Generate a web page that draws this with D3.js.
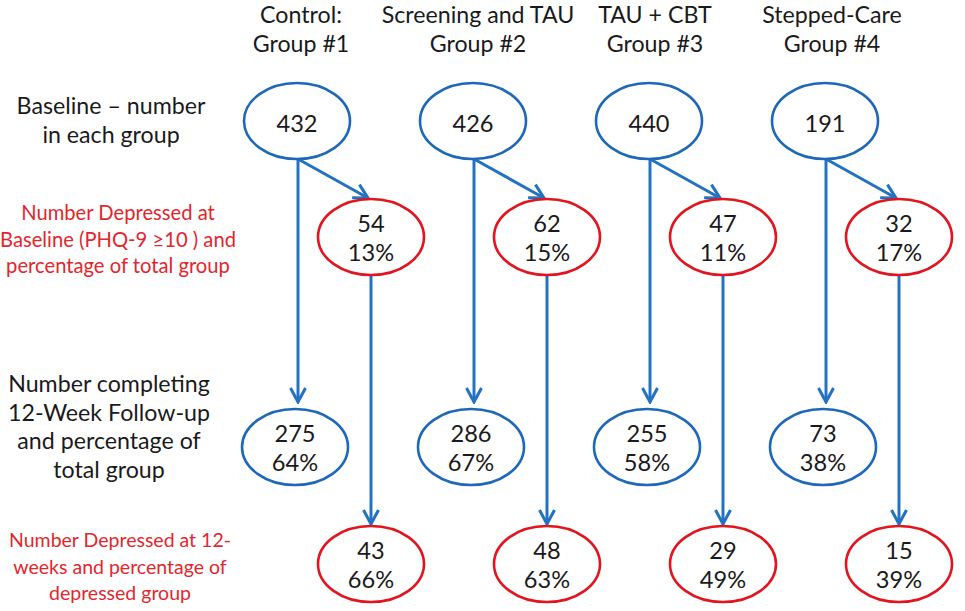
<!DOCTYPE html>
<html>
<head>
<meta charset="utf-8">
<script src="https://cdn.jsdelivr.net/npm/d3@7"></script>
<style>
  body { margin: 0; background: #fff; }
  svg { display: block; font-family: Lato, "Open Sans", sans-serif; }
</style>
</head>
<body>
<div id="vis"></div>
<script>
// Data
const GROUP_TITLES = [["Control:", "Group #1"], ["Screening and TAU", "Group #2"],
                      ["TAU + CBT", "Group #3"], ["Stepped-Care", "Group #4"]];
const BASELINE_N = [432, 426, 440, 191];
const DEPRESSED_BASE_N = [54, 62, 47, 32];
const DEPRESSED_BASE_PCT = [13, 15, 11, 17];
const FOLLOWUP_N = [275, 286, 255, 73];
const FOLLOWUP_PCT = [64, 67, 58, 38];
const DEPRESSED_12W_N = [43, 48, 29, 15];
const DEPRESSED_12W_PCT = [66, 63, 49, 39];

const ROW_LABELS = [
  {lines: ["Baseline \u2013 number", "in each group"], red: false},
  {lines: ["Number Depressed at", "Baseline (PHQ-9 \u226510 ) and", "percentage of total group"], red: true},
  {lines: ["Number completing", "12-Week Follow-up", "and percentage of", "total group"], red: false},
  {lines: ["Number Depressed at 12-", "weeks and percentage of", "depressed group"], red: true}
];

// Frame
const FRAME_WIDTH = 965;
const FRAME_HEIGHT = 611;
const BLUE = "#1e68b8";
const ARROW_BLUE = "#2272c4";
const RED = "#e2151f";
const RED_TEXT = "#e3262d";
const INK = "#1a1a1a";
const RX = 53, RY = 38;
const RED_SHIFT = 74;

const FRAME = d3.select("#vis")
  .append("svg")
    .attr("width", FRAME_WIDTH)
    .attr("height", FRAME_HEIGHT);

// Scales: group index -> column x, row -> centre y
const X_SCALE = d3.scaleLinear().domain([0, 3]).range([297, 825]);
const TITLE_X = d3.scaleLinear().domain([0, 3]).range([301, 832]);
const Y_ROW = d3.scaleOrdinal()
  .domain(["base", "depBase", "follow", "dep12"])
  .range([121, 237, 447, 564]);

// Arrow head marker (open chevron)
FRAME.append("defs").append("marker")
  .attr("id", "head")
  .attr("viewBox", "-16 -9 18 18")
  .attr("refX", 0)
  .attr("refY", 0)
  .attr("markerUnits", "userSpaceOnUse")
  .attr("markerWidth", 18)
  .attr("markerHeight", 18)
  .attr("orient", "auto")
  .append("path")
    .attr("d", "M-14,-7.5 L0,0 L-14,7.5")
    .attr("fill", "none")
    .attr("stroke", ARROW_BLUE)
    .attr("stroke-width", 3)
    .attr("stroke-linejoin", "miter")
    .attr("stroke-linecap", "butt");

// Group titles
GROUP_TITLES.forEach((t, i) => {
  const txt = FRAME.append("text")
    .attr("x", TITLE_X(i))
    .attr("text-anchor", "middle")
    .attr("fill", INK)
    .style("font-size", "23.2px");
  t.forEach((line, j) => {
    txt.append("tspan").attr("x", TITLE_X(i)).attr("y", 23 + j * 29).text(line);
  });
});

// Row labels on the left
const LABEL_POS = [{x: 111, y: 114, step: 29, size: 23.2},
                   {x: 118, y: 220, step: 26.5, size: 20.2},
                   {x: 109, y: 392, step: 28.5, size: 23.2},
                   {x: 120, y: 547, step: 26.5, size: 19.5}];
ROW_LABELS.forEach((r, i) => {
  const txt = FRAME.append("text")
    .attr("text-anchor", "middle")
    .attr("fill", r.red ? RED_TEXT : INK)
    .style("font-size", LABEL_POS[i].size + "px");
  r.lines.forEach((line, j) => {
    txt.append("tspan")
      .attr("x", LABEL_POS[i].x)
      .attr("y", LABEL_POS[i].y + j * LABEL_POS[i].step)
      .text(line);
  });
});

// Build node table from the arrays
const nodes = [];
BASELINE_N.forEach((n, i) => {
  nodes.push({g: i, row: "base", x: X_SCALE(i), lines: [String(n)], color: BLUE});
  nodes.push({g: i, row: "depBase", x: X_SCALE(i) + RED_SHIFT,
              lines: [String(DEPRESSED_BASE_N[i]), DEPRESSED_BASE_PCT[i] + "%"], color: RED});
  nodes.push({g: i, row: "follow", x: X_SCALE(i) - 2,
              lines: [String(FOLLOWUP_N[i]), FOLLOWUP_PCT[i] + "%"], color: BLUE});
  nodes.push({g: i, row: "dep12", x: X_SCALE(i) + RED_SHIFT,
              lines: [String(DEPRESSED_12W_N[i]), DEPRESSED_12W_PCT[i] + "%"], color: RED});
});

// Arrows (drawn first so ellipses sit on top)
const ARROWS = FRAME.append("g")
  .attr("stroke", ARROW_BLUE)
  .attr("stroke-width", 3)
  .attr("fill", "none");

BASELINE_N.forEach((n, i) => {
  const bx = X_SCALE(i) + 1;
  const by = Y_ROW("base") + RY;
  // baseline -> follow-up
  ARROWS.append("line")
    .attr("x1", bx).attr("y1", by)
    .attr("x2", bx).attr("y2", Y_ROW("follow") - RY - 7)
    .attr("marker-end", "url(#head)");
  // baseline -> depressed at baseline
  ARROWS.append("line")
    .attr("x1", bx).attr("y1", by)
    .attr("x2", X_SCALE(i) + RED_SHIFT - 3).attr("y2", Y_ROW("depBase") - RY - 1)
    .attr("marker-end", "url(#head)");
  // depressed at baseline -> depressed at 12 weeks
  ARROWS.append("line")
    .attr("x1", X_SCALE(i) + RED_SHIFT).attr("y1", Y_ROW("depBase") + RY)
    .attr("x2", X_SCALE(i) + RED_SHIFT).attr("y2", Y_ROW("dep12") - RY - 2)
    .attr("marker-end", "url(#head)");
});

// Ellipses
const NODE = FRAME.selectAll(".node")
  .data(nodes)
  .enter()
  .append("g")
    .attr("class", "node")
    .attr("transform", (d) => "translate(" + d.x + "," + Y_ROW(d.row) + ")");

NODE.append("ellipse")
  .attr("rx", RX)
  .attr("ry", RY)
  .attr("fill", "#fff")
  .attr("stroke", (d) => d.color)
  .attr("stroke-width", 2.6);

NODE.append("text")
  .attr("text-anchor", "middle")
  .attr("fill", INK)
  .style("font-size", "23.6px")
  .selectAll("tspan")
  .data((d) => d.lines.map((l) => ({l: l, single: d.lines.length === 1})))
  .enter()
  .append("tspan")
    .attr("x", 0)
    .attr("y", (d, j) => d.single ? 11 : -5 + j * 29)
    .text((d) => d.l);
</script>
</body>
</html>
